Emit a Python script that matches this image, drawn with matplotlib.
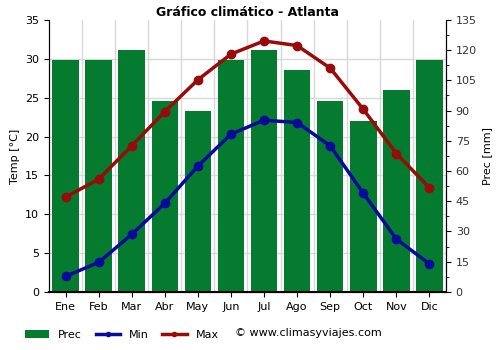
import numpy as np
import matplotlib.pyplot as plt
from matplotlib.ticker import MultipleLocator

meses = ['Ene', 'Feb', 'Mar', 'Abr', 'May', 'Jun', 'Jul', 'Ago', 'Sep', 'Oct', 'Nov', 'Dic']
prec = [115, 115, 120, 95, 90, 115, 120, 110, 95, 85, 100, 115]
t_min = [2.0, 3.8, 7.4, 11.4, 16.2, 20.3, 22.1, 21.8, 18.8, 12.7, 6.8, 3.6]
t_max = [12.2, 14.5, 18.8, 23.2, 27.3, 30.6, 32.3, 31.7, 28.8, 23.5, 17.8, 13.4]

x = np.arange(len(meses))

fig = plt.figure(figsize=(5, 3.5), dpi=100)
ax = fig.add_axes([0.098, 0.166, 0.794, 0.777])
ax2 = ax.twinx()

# bars on the right axis, drawn below the temperature lines
ax2.bar(x, prec, width=0.8, color='#047b2f', zorder=1, label='Prec')
ax2.set_ylim(0, 135)
ax2.yaxis.set_major_locator(MultipleLocator(15))
ax2.yaxis.set_minor_locator(MultipleLocator(7.5))
ax2.set_ylabel('Prec [mm]', fontsize=8)
ax2.tick_params(axis='y', labelsize=8, labelcolor='#333333')

ax.set_zorder(ax2.get_zorder() + 1)
ax.patch.set_visible(False)
ax.plot(x, t_min, color='#0a0a9a', lw=2.5, marker='o', ms=6, label='Min')
ax.plot(x, t_max, color='#990a0a', lw=2.5, marker='o', ms=6, label='Max')
ax.set_ylim(0, 35)
ax.set_xlim(-0.5, 11.5)
ax.yaxis.set_major_locator(MultipleLocator(5))
ax.set_xticks(x)
ax.set_xticklabels(meses)
ax.set_ylabel('Temp [°C]', fontsize=8)
ax.tick_params(labelsize=8)

# grid behind the bars
for v in np.arange(0.5, 11.5, 1):
    ax2.axvline(v, color='#d8d8d8', lw=1, zorder=0)
for h in np.arange(5, 35, 5):
    ax2.axhline(h * 135 / 35, color='#d8d8d8', lw=1, zorder=0)

ax.spines['bottom'].set_linewidth(1.5)
ax.spines['top'].set_visible(False)
ax2.spines['top'].set_visible(False)

ax.set_title('Gráfico climático - Atlanta', fontsize=9, fontweight='bold', pad=3)

h1, l1 = ax2.get_legend_handles_labels()
h2, l2 = ax.get_legend_handles_labels()
fig.legend(h1 + h2, l1 + l2, loc='lower left', bbox_to_anchor=(0.03, 0.0),
           ncol=3, frameon=False, fontsize=8, handlelength=2.2, columnspacing=1.2,
           markerscale=0.5)
fig.text(0.47, 0.05, '© www.climasyviajes.com', fontsize=8, va='center')

fig.savefig('out.png', dpi=100)
